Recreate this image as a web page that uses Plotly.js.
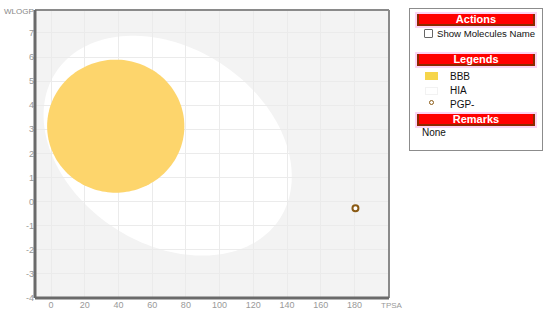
<!DOCTYPE html>
<html><head><meta charset="utf-8">
<script src="https://cdn.plot.ly/plotly-3.0.1.min.js"></script>
<style>
body{margin:0;padding:0;background:#fff;font-family:"Liberation Sans",Arial,sans-serif;}
#chart{position:absolute;left:0;top:0;width:550px;height:315px;}
#panel{position:absolute;left:409px;top:8px;width:134px;height:143px;border:1px solid #8c8c8c;background:#fff;box-sizing:border-box;}
.hd{position:absolute;left:7px;width:118px;height:12px;background:#f00;border-left:2px solid #8b2a00;border-right:2px solid #8b2a00;border-bottom:2px solid #8b2a00;box-sizing:border-box;color:#fff;font-weight:bold;font-size:11px;line-height:10px;text-align:center;box-shadow:0 0 0 2px #fcd3f4;}
.tx{position:absolute;font-size:10px;color:#111;line-height:12px;white-space:nowrap;}
.sw{position:absolute;width:13px;height:8px;}
</style></head><body>
<div id="chart"></div>
<div id="panel">
  <div class="hd" style="top:5px;">Actions</div>
  <div class="tx" style="left:14px;top:19px;font-size:9.6px;"><span style="display:inline-block;width:7px;height:7px;border:1px solid #666;border-radius:1px;vertical-align:-1px;margin-right:4px;background:#fff"></span>Show Molecules Name</div>
  <div class="hd" style="top:45px;">Legends</div>
  <div class="sw" style="left:15px;top:63px;background:#f6d54a;"></div>
  <div class="tx" style="left:40px;top:62px;">BBB</div>
  <div class="sw" style="left:15px;top:78px;background:#fff;border:1px solid #f2f2f2;box-sizing:border-box;"></div>
  <div class="tx" style="left:40px;top:76px;">HIA</div>
  <div style="position:absolute;left:19px;top:91px;width:3px;height:3px;border:1.5px solid #8a5a14;border-radius:50%;background:#fff;"></div>
  <div class="tx" style="left:40px;top:90px;">PGP-</div>
  <div class="hd" style="top:105px;">Remarks</div>
  <div class="tx" style="left:12px;top:118px;">None</div>
</div>
<script>
// Data
var molName = ["Molecule 1"];
var tpsa = [180.6];
var wlogp = [-0.28];
// Ellipse definitions (data units): centre, and general affine axes
// x = cx + ax*cos t + bx*sin t ; y = cy + ay*cos t + by*sin t
var hiaEllipse = {cx: 69.2, cy: 2.32, ax: 66.5, bx: -31.6, ay: -3.03, by: -3.41};
var bbbEllipse = {cx: 38.4, cy: 3.13, ax: 40.7, bx: 0.0, ay: 0.0, by: 2.76};
var xTicks = [0,20,40,60,80,100,120,140,160,180];
var yTicks = [-4,-3,-2,-1,0,1,2,3,4,5,6,7];

function ellPath(e){
  var n = 160, p = '';
  for (var i=0;i<=n;i++){
    var t = 2*Math.PI*i/n;
    var x = e.cx + e.ax*Math.cos(t) + e.bx*Math.sin(t);
    var y = e.cy + e.ay*Math.cos(t) + e.by*Math.sin(t);
    p += (i===0?'M':'L') + x.toFixed(3) + ',' + y.toFixed(3);
  }
  return p + 'Z';
}

var trace = {
  x: tpsa, y: wlogp, text: molName, type: 'scatter', mode: 'markers',
  marker: {size: 6, color: '#ffffff', line: {color: '#8a5a14', width: 2}},
  hoverinfo: 'text', showlegend: false
};

var layout = {
  width: 550, height: 315,
  margin: {l: 35, r: 161, t: 10, b: 17},
  paper_bgcolor: '#ffffff', plot_bgcolor: '#f3f3f3',
  font: {family: '"Liberation Sans", Arial, sans-serif', size: 9, color: '#999'},
  xaxis: {range: [-9.5, 200.5], tickvals: xTicks, ticktext: xTicks.map(String),
    showgrid: true, gridcolor: '#ebebeb', gridwidth: 1, zeroline: false,
    showline: false, ticks: '', tickfont: {size: 9, color: '#999'}},
  yaxis: {range: [-4, 7.95], tickvals: yTicks, ticktext: yTicks.map(String),
    showgrid: true, gridcolor: '#ebebeb', gridwidth: 1, zeroline: false,
    showline: false, ticks: '', tickfont: {size: 9, color: '#999'}},
  shapes: [
    {type: 'path', path: ellPath(hiaEllipse), xref: 'x', yref: 'y', fillcolor: '#ffffff', line: {width: 0}, layer: 'below'},
    {type: 'path', path: ellPath(bbbEllipse), xref: 'x', yref: 'y', fillcolor: '#fdd56c', line: {width: 0}, layer: 'between'},
    {type: 'line', xref: 'paper', yref: 'paper', x0: 0, x1: 1, y0: 1, y1: 1, line: {color: '#8a8a8a', width: 2}},
    {type: 'line', xref: 'paper', yref: 'paper', x0: 1, x1: 1, y0: 0, y1: 1, line: {color: '#8a8a8a', width: 2}},
    {type: 'line', xref: 'paper', yref: 'paper', x0: 0, x1: 0, y0: 0, y1: 1, line: {color: '#6a6a6a', width: 3}},
    {type: 'line', xref: 'paper', yref: 'paper', x0: 0, x1: 1, y0: 0, y1: 0, line: {color: '#6a6a6a', width: 3}}
  ],
  annotations: [
    {text: 'WLOGP', xref: 'paper', yref: 'paper', x: 0, y: 1, xanchor: 'right', yanchor: 'middle', xshift: 1, yshift: -1,
     showarrow: false, font: {size: 8, color: '#888'}},
    {text: 'TPSA', xref: 'paper', yref: 'paper', x: 1, y: 0, xanchor: 'left', yanchor: 'top', xshift: -10, yshift: -1,
     showarrow: false, font: {size: 8, color: '#999'}}
  ]
};
Plotly.newPlot('chart', [trace], layout, {displayModeBar: false, staticPlot: true});
</script>
</body></html>
